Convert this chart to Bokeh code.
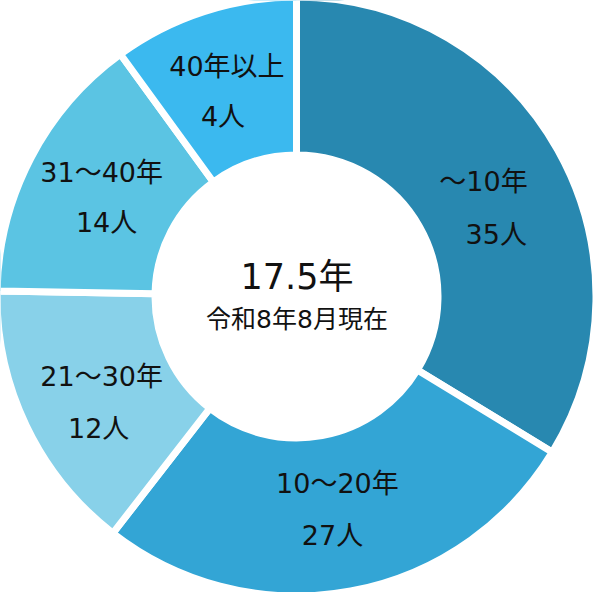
import math
from bokeh.plotting import figure
from bokeh.models import ColumnDataSource
from bokeh.core.properties import value
from bokeh.embed import file_html
from bokeh.resources import INLINE

# ---- data ----
categories = ["～10年", "10～20年", "21～30年", "31～40年", "40年以上"]
counts = ["35人", "27人", "12人", "14人", "4人"]
shares = [33.7, 26.8, 14.8, 14.7, 10.0]   # wedge sizes (%)
colors = ["#2888B0", "#33A5D5", "#88D1E9", "#5BC4E3", "#3BB9EF"]
center_value = "17.5年"
center_note = "令和8年8月現在"

# label positions (reference pixel coords: centre of each text line)
cat_pos = [(489, 183), (341, 489), (102, 381), (102, 174), (229, 66)]
cnt_pos = [(502, 237), (336, 542), (99, 433), (107, 225), (225, 117)]

# ---- geometry ----
W, H = 593, 592
R = 296.0
S = R / 300.0          # scale from reference pixels
RC = 299.5             # reference centre
GAP = 7

def to_data(px, py):
    return ((px - RC) * S, -(py - RC) * S)

total = sum(shares)
starts, ends = [], []
acc = 0.0
for v in shares:
    a0 = math.pi / 2 - acc / total * 2 * math.pi
    acc += v
    a1 = math.pi / 2 - acc / total * 2 * math.pi
    starts.append(a0)
    ends.append(a1)

p = figure(width=W, height=H, output_backend="svg", toolbar_location=None,
           x_range=(-R, W - R), y_range=(-(H - R), R),
           min_border=0, x_axis_location=None, y_axis_location=None)
p.grid.visible = False
p.outline_line_color = None
p.background_fill_color = "white"
p.border_fill_color = "white"

src = ColumnDataSource(dict(start=starts, end=ends, color=colors))
p.annular_wedge(x=0, y=0, inner_radius=145 - GAP / 2,
                outer_radius=R + GAP / 2,
                inner_radius_units="screen", outer_radius_units="screen",
                start_angle="start", end_angle="end", direction="clock",
                fill_color="color", line_color="white", line_width=GAP,
                source=src)

cx = [to_data(*xy)[0] for xy in cat_pos]
cy = [to_data(*xy)[1] for xy in cat_pos]
nx = [to_data(*xy)[0] for xy in cnt_pos]
ny = [to_data(*xy)[1] for xy in cnt_pos]

font = value("DejaVu Sans, Noto Sans CJK JP")
p.text(x=cx, y=cy, text=categories, text_font=font, text_font_size="27px",
       text_align="center", text_baseline="middle", text_color="#111111")
p.text(x=nx, y=ny, text=counts, text_font=font, text_font_size="27px",
       text_align="center", text_baseline="middle", text_color="#111111")

vx, vy = to_data(300, 280)
tx, ty = to_data(300, 323)
p.text(x=[vx], y=[vy], text=[center_value], text_font=font, text_font_size="35px",
       text_align="center", text_baseline="middle", text_color="#111111")
p.text(x=[tx], y=[ty], text=[center_note], text_font=font, text_font_size="25px",
       text_align="center", text_baseline="middle", text_color="#111111")

open("out.html", "w").write(file_html(p, INLINE))
